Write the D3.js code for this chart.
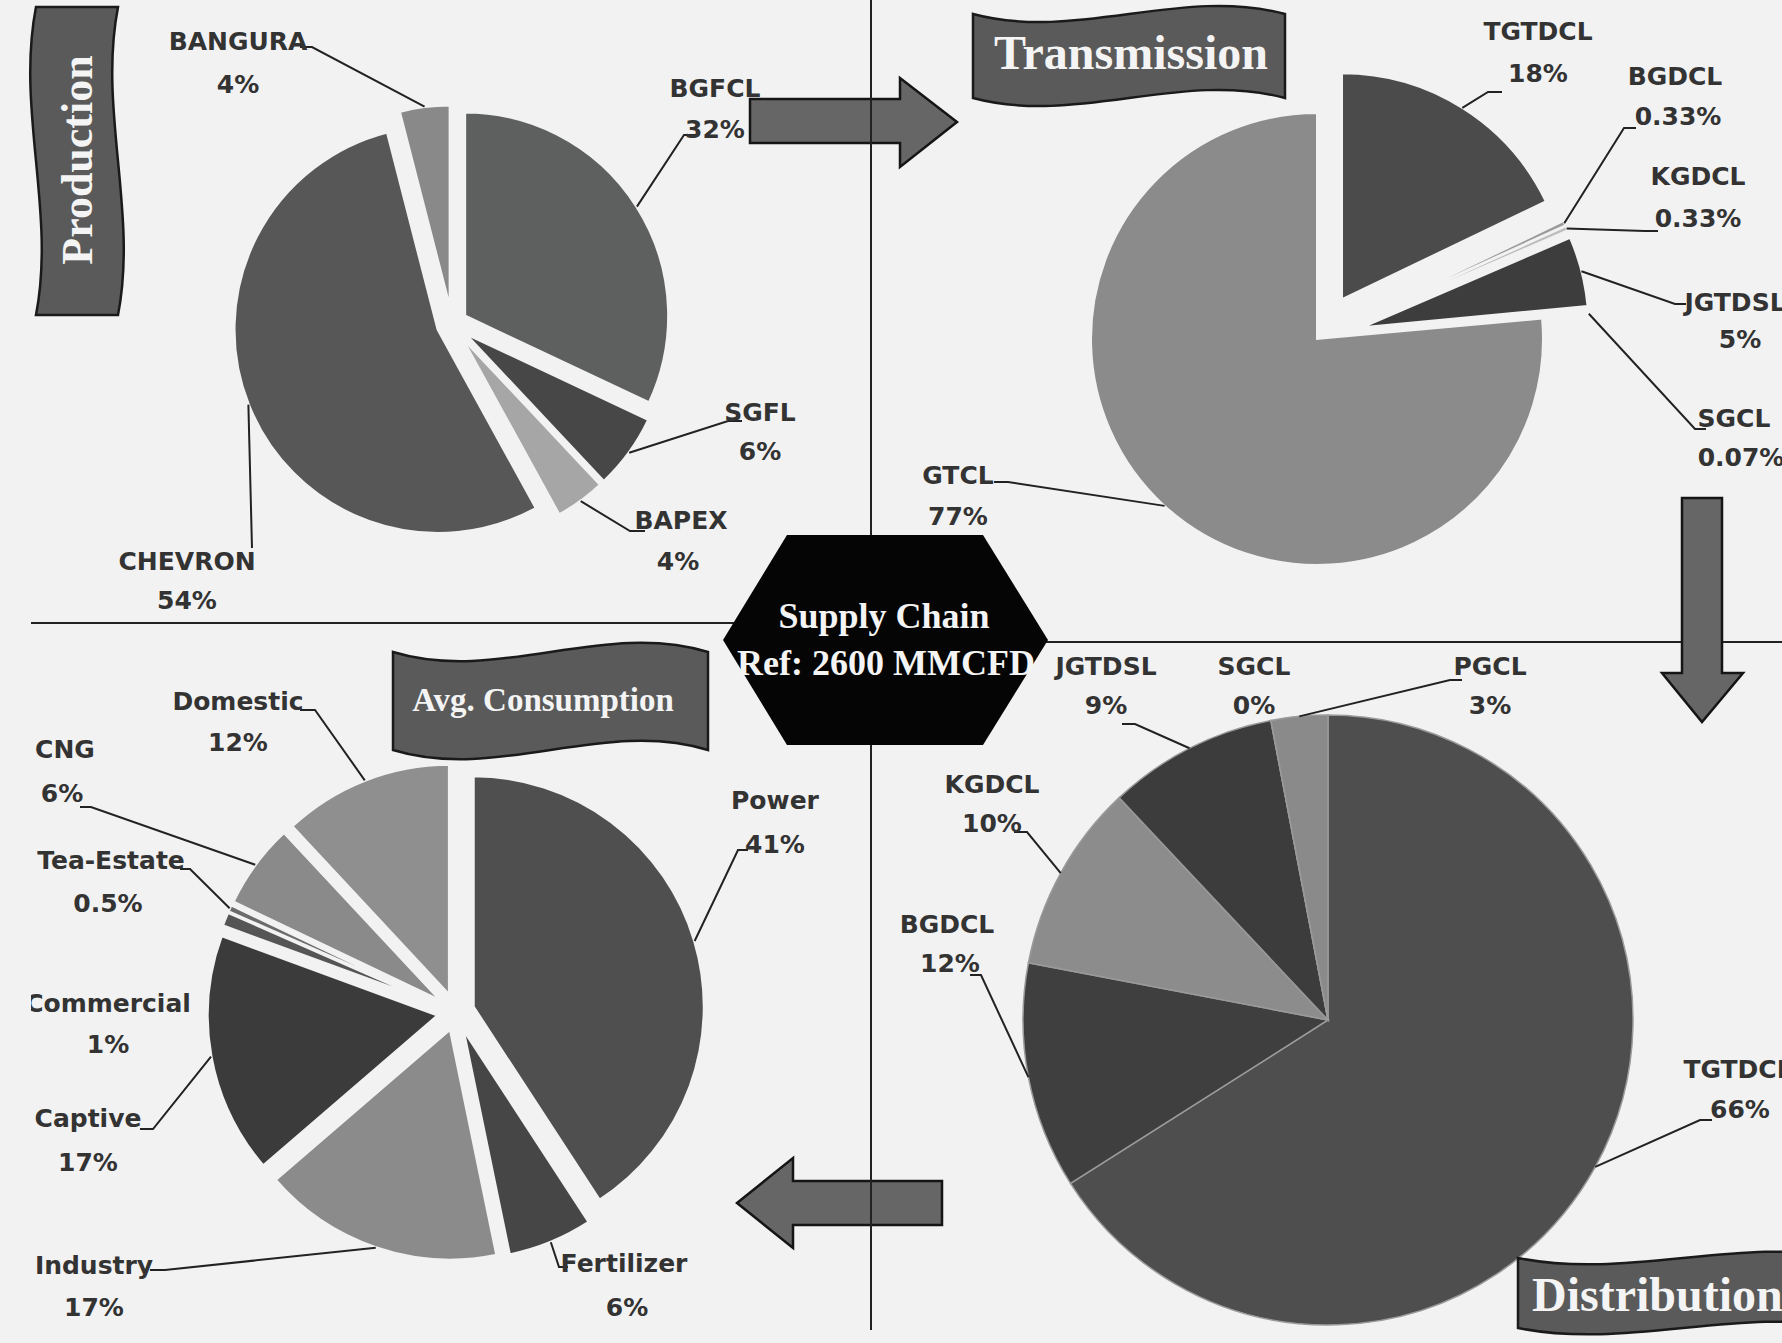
<!DOCTYPE html>
<html>
<head>
    <meta charset="utf-8">
    <title>Gas supply chain pies</title>
    <script src="https://d3js.org/d3.v7.min.js"></script>
    <style>
        body { margin: 0; background: #f2f2f2; }
    </style>
</head>
<body>
<script>
    // ---- data ----
    var prodLabels = ["BGFCL", "SGFL", "BAPEX", "CHEVRON", "BANGURA"];
    var prodValues = [32, 6, 4, 54, 4];

    var transLabels = ["TGTDCL", "BGDCL", "KGDCL", "JGTDSL", "SGCL", "GTCL"];
    var transValues = [18, 0.33, 0.33, 5, 0.07, 77];

    var consLabels = ["Power", "Fertilizer", "Industry", "Captive", "Commercial", "Tea-Estate", "CNG", "Domestic"];
    var consValues = [41, 6, 17, 17, 1, 0.5, 6, 12];

    var distLabels = ["TGTDCL", "BGDCL", "KGDCL", "JGTDSL", "SGCL", "PGCL"];
    var distValues = [66, 12, 10, 9, 0, 3];

    var titles = ["Production", "Transmission", "Avg. Consumption", "Distribution"];
    var centerText = ["Supply Chain", "Ref: 2600 MMCFD"];

    var w = 1782, h = 1343;
    var svg = d3.select("body").append("svg")
        .attr("width", w)
        .attr("height", h);

    svg.append("rect").attr("width", w).attr("height", h).attr("fill", "#f2f2f2");

    svg.append("defs").append("clipPath").attr("id", "leftclip")
        .append("rect").attr("x", 31).attr("y", 0).attr("width", w).attr("height", h);

    var labelFont = "DejaVu Sans";
    var serif = "Liberation Serif";

    // ---- arrows (drawn under the divider lines) ----
    function arrow(pts) {
        svg.append("path")
            .attr("d", d3.line()(pts) + "Z")
            .attr("fill", "#666")
            .attr("stroke", "#151515")
            .attr("stroke-width", 2.5)
            .attr("stroke-linejoin", "miter");
    }
    arrow([[750, 99], [900, 99], [900, 78], [957, 122], [900, 167], [900, 143], [750, 143]]);
    arrow([[942, 1181], [793, 1181], [793, 1158], [737, 1203], [793, 1248], [793, 1225], [942, 1225]]);

    // ---- divider lines ----
    svg.append("line").attr("x1", 871).attr("y1", 0).attr("x2", 871).attr("y2", 1330)
        .attr("stroke", "#222").attr("stroke-width", 2);
    svg.append("line").attr("x1", 31).attr("y1", 623).attr("x2", 760).attr("y2", 623)
        .attr("stroke", "#222").attr("stroke-width", 2);
    svg.append("line").attr("x1", 1000).attr("y1", 642).attr("x2", w).attr("y2", 642)
        .attr("stroke", "#222").attr("stroke-width", 2);

    arrow([[1682, 498], [1722, 498], [1722, 673], [1743, 673], [1702, 722], [1662, 673], [1682, 673]]);

    // ---- pie helper ----
    function drawPie(c) {
        var root = svg.append("g");
        if (c.clip) root.attr("clip-path", "url(#leftclip)");
        var pie = d3.pie().sort(null).value(function (d) { return d; });
        var arcs = pie(c.values);
        var arc = d3.arc().innerRadius(0).outerRadius(c.r);
        var g = root.append("g").attr("transform", "translate(" + c.cx + "," + c.cy + ")");

        g.selectAll("path")
            .data(arcs)
            .enter()
            .append("path")
            .attr("d", arc)
            .attr("transform", function (d, i) {
                var a = (d.startAngle + d.endAngle) / 2, e = c.explode[i];
                return "translate(" + (e * Math.sin(a)) + "," + (-e * Math.cos(a)) + ")";
            })
            .attr("fill", function (d, i) { return c.colors[i]; })
            .attr("stroke", c.stroke)
            .attr("stroke-width", c.strokeWidth);

        // leader lines end on the rim at each slice's middle angle
        arcs.forEach(function (d, i) {
            if (!c.leaders[i]) return;
            var e = c.explode[i];
            var rim = d3.arc().innerRadius(c.r + e).outerRadius(c.r + e).centroid(d);
            var pts = c.leaders[i].concat([[c.cx + rim[0], c.cy + rim[1]]]);
            root.append("path")
                .attr("d", d3.line()(pts))
                .attr("fill", "none")
                .attr("stroke", "#222")
                .attr("stroke-width", 2);
        });

        c.labels.forEach(function (name, i) {
            var p = c.pos[i];
            root.append("text").text(name)
                .attr("x", p[0]).attr("y", p[1])
                .attr("text-anchor", "middle").attr("dominant-baseline", "central")
                .attr("font-family", labelFont).attr("font-weight", "bold")
                .attr("font-size", 25).attr("fill", "#333");
            root.append("text").text(c.values[i] + "%")
                .attr("x", p[2]).attr("y", p[3])
                .attr("text-anchor", "middle").attr("dominant-baseline", "central")
                .attr("font-family", labelFont).attr("font-weight", "bold")
                .attr("font-size", 25).attr("fill", "#333");
        });
    }

    // production (top left)
    drawPie({
        labels: prodLabels, values: prodValues,
        cx: 452, cy: 324, r: 204,
        explode: [15, 15, 15, 15, 15],
        colors: ["#5e605f", "#474747", "#a6a6a6", "#575757", "#898989"],
        stroke: "#f2f2f2", strokeWidth: 3,
        pos: [[715, 88, 715, 129], [760, 412, 760, 451], [681, 520, 678, 561],
              [187, 561, 187, 600], [238, 41, 238, 84]],
        leaders: [[[698, 135], [684, 135]], [[742, 421], [728, 421]], [[645, 531], [630, 531]],
                  [[252, 548]], [[300, 47], [312, 47]]]
    });

    // transmission (top right)
    drawPie({
        labels: transLabels, values: transValues,
        cx: 1317, cy: 339, r: 226,
        explode: [47, 47, 47, 47, 47, 0],
        colors: ["#4b4b4b", "#9a9a9a", "#bdbdbd", "#3d3d3d", "#777777", "#8b8b8b"],
        stroke: "#f2f2f2", strokeWidth: 2,
        pos: [[1538, 31, 1538, 73], [1675, 76, 1678, 116], [1698, 176, 1698, 218],
              [1735, 302, 1740, 339], [1734, 418, 1741, 457], [958, 475, 958, 516]],
        leaders: [[[1502, 92], [1488, 92]], [[1636, 128], [1624, 128]], [[1658, 231], [1645, 231]],
                  [[1686, 304], [1675, 304]], [[1706, 429], [1695, 429]], [[994, 482], [1008, 482]]]
    });

    // consumption (bottom left)
    drawPie({
        labels: consLabels, values: consValues,
        cx: 456, cy: 1012, r: 231, clip: true,
        explode: [18, 18, 18, 18, 18, 18, 18, 18],
        colors: ["#4f4f4f", "#464646", "#8b8b8b", "#3b3b3b", "#555555", "#6b6b6b", "#8a8a8a", "#8f8f8f"],
        stroke: "#f2f2f2", strokeWidth: 3,
        pos: [[775, 800, 775, 844], [624, 1263, 627, 1307], [94, 1265, 94, 1307],
              [88, 1118, 88, 1162], [108, 1003, 108, 1044], [111, 860, 108, 903],
              [65, 749, 62, 793], [238, 701, 238, 742]],
        leaders: [[[748, 850], [738, 850]], [[568, 1267], [559, 1267]], [[150, 1270], [165, 1270]],
                  [[140, 1129], [153, 1129]], null, [[180, 869], [190, 869]],
                  [[80, 807], [91, 807]], [[300, 710], [315, 710]]]
    });

    // distribution (bottom right)
    drawPie({
        labels: distLabels, values: distValues,
        cx: 1328, cy: 1020, r: 305,
        explode: [0, 0, 0, 0, 0, 0],
        colors: ["#4e4e4e", "#3f3f3f", "#8c8c8c", "#3c3c3c", "#777777", "#8a8a8a"],
        stroke: "#9a9a9a", strokeWidth: 1.5,
        pos: [[1738, 1069, 1740, 1109], [947, 924, 950, 963], [992, 784, 992, 823],
              [1106, 666, 1106, 705], [1254, 666, 1254, 705], [1490, 666, 1490, 705]],
        leaders: [[[1712, 1120], [1700, 1120]], [[970, 975], [981, 975]], [[1014, 832], [1027, 832]],
                  [[1122, 724], [1135, 724]], null, [[1462, 680], [1450, 680]]]
    });

    // ---- wave banners ----
    function waveH(x, y, bw, bh, k) {
        return "M" + x + "," + y +
            "C" + (x + bw / 3) + "," + (y + k) + " " + (x + 2 * bw / 3) + "," + (y - k) + " " + (x + bw) + "," + y +
            "L" + (x + bw) + "," + (y + bh) +
            "C" + (x + 2 * bw / 3) + "," + (y + bh - k) + " " + (x + bw / 3) + "," + (y + bh + k) + " " + x + "," + (y + bh) + "Z";
    }
    function waveV(x, y, bw, bh, k) {
        return "M" + x + "," + y +
            "L" + (x + bw) + "," + y +
            "C" + (x + bw + k) + "," + (y + bh / 3) + " " + (x + bw - k) + "," + (y + 2 * bh / 3) + " " + (x + bw) + "," + (y + bh) +
            "L" + x + "," + (y + bh) +
            "C" + (x - k) + "," + (y + 2 * bh / 3) + " " + (x + k) + "," + (y + bh / 3) + " " + x + "," + y + "Z";
    }
    function banner(d) {
        svg.append("path").attr("d", d)
            .attr("fill", "#5a5a5a").attr("stroke", "#1a1a1a").attr("stroke-width", 2.5);
    }

    banner(waveV(36, 7, 82, 308, -20));
    svg.append("text").text(titles[0])
        .attr("transform", "translate(92,160) rotate(-90)")
        .attr("text-anchor", "middle")
        .attr("font-family", serif).attr("font-weight", "bold")
        .attr("font-size", 44).attr("fill", "#f4f4f4");

    banner(waveH(973, 14, 312, 84, 28));
    svg.append("text").text(titles[1])
        .attr("x", 1131).attr("y", 69).attr("text-anchor", "middle")
        .attr("font-family", serif).attr("font-weight", "bold")
        .attr("font-size", 48).attr("fill", "#f4f4f4");

    banner(waveH(393, 652, 315, 98, 32));
    svg.append("text").text(titles[2])
        .attr("x", 543).attr("y", 711).attr("text-anchor", "middle")
        .attr("font-family", serif).attr("font-weight", "bold")
        .attr("font-size", 33).attr("fill", "#f4f4f4");

    banner(waveH(1518, 1258, 330, 70, 22));
    svg.append("text").text(titles[3])
        .attr("x", 1532).attr("y", 1311)
        .attr("font-family", serif).attr("font-weight", "bold")
        .attr("font-size", 48).attr("fill", "#f4f4f4");

    // ---- centre hexagon ----
    svg.append("path")
        .attr("d", d3.line()([[787, 535], [983, 535], [1048, 640], [983, 745], [787, 745], [723, 640]]) + "Z")
        .attr("fill", "#050505");
    svg.append("text").text(centerText[0])
        .attr("x", 884).attr("y", 628).attr("text-anchor", "middle")
        .attr("font-family", serif).attr("font-weight", "bold")
        .attr("font-size", 36).attr("fill", "#f4f4f4");
    svg.append("text").text(centerText[1])
        .attr("x", 886).attr("y", 675).attr("text-anchor", "middle")
        .attr("font-family", serif).attr("font-weight", "bold")
        .attr("font-size", 36).attr("fill", "#f4f4f4");
</script>
</body>
</html>
